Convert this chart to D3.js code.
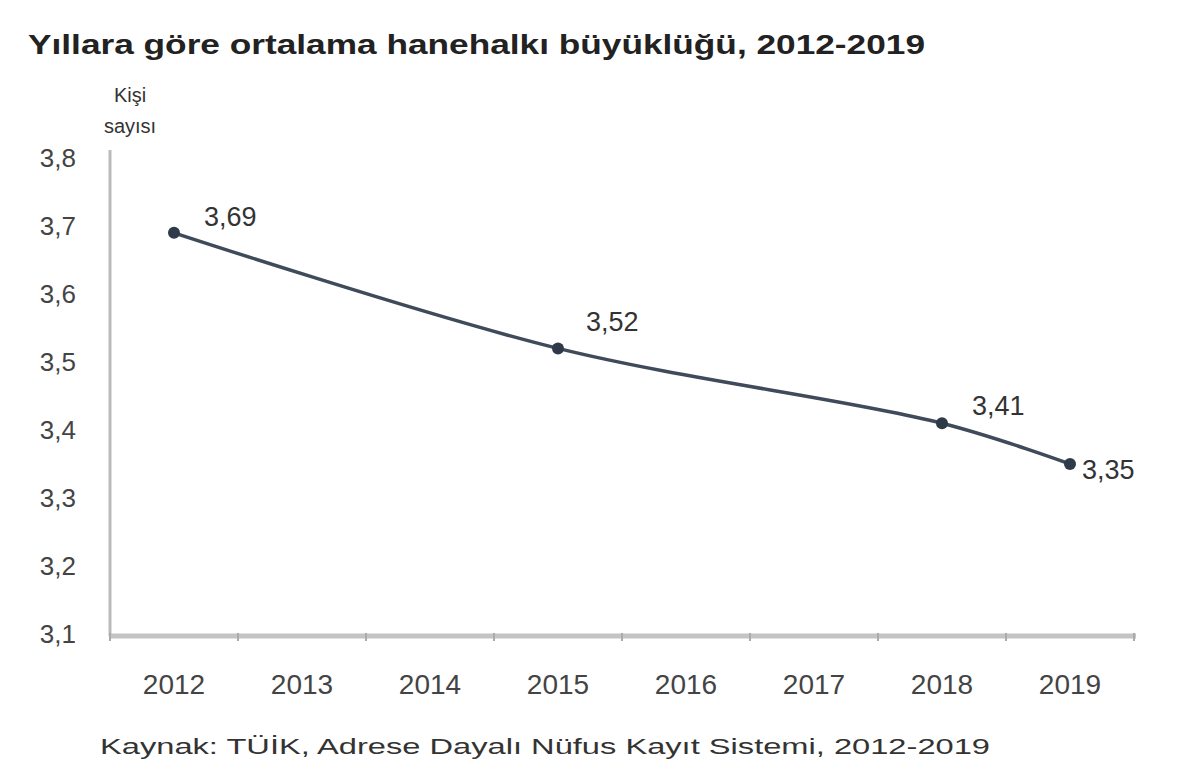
<!DOCTYPE html>
<html>
<head>
<meta charset="utf-8">
<script src="https://cdn.jsdelivr.net/npm/d3@7"></script>
<style>
  body { margin: 0; background: #fff; }
  text { font-family: "Liberation Sans", Arial, sans-serif; fill: #333; }
</style>
</head>
<body>
<svg id="chart" width="1200" height="783"></svg>
<script>
const years = ["2012", "2013", "2014", "2015", "2016", "2017", "2018", "2019"];
const pointYears = ["2012", "2015", "2018", "2019"];
const pointValues = [3.69, 3.52, 3.41, 3.35];
const yTicks = [3.1, 3.2, 3.3, 3.4, 3.5, 3.6, 3.7, 3.8];

const title = "Yıllara göre ortalama hanehalkı büyüklüğü, 2012-2019";
const source = "Kaynak: TÜİK, Adrese Dayalı Nüfus Kayıt Sistemi, 2012-2019";

const svg = d3.select("#chart");
const data = pointYears.map((y, i) => ({ year: y, value: pointValues[i] }));

const x = d3.scaleBand().domain(years).range([110, 1134]);
const y = d3.scaleLinear().domain([3.1, 3.8]).range([634, 158]);
const fmt = (v, n) => d3.format("." + n + "f")(v).replace(".", ",");

// title
svg.append("text")
  .attr("x", 28).attr("y", 54)
  .attr("font-size", 27).attr("font-weight", "bold")
  .attr("textLength", 897).attr("lengthAdjust", "spacingAndGlyphs")
  .style("fill", "#222")
  .text(title);

// y axis label
const yl = svg.append("text").attr("text-anchor", "middle").attr("font-size", 20);
yl.append("tspan").attr("x", 130).attr("y", 102).text("Kişi");
yl.append("tspan").attr("x", 130).attr("y", 133).text("sayısı");

// y axis
const yAxis = svg.append("g")
  .attr("transform", "translate(110,0)")
  .call(d3.axisLeft(y).tickValues(yTicks).tickSize(0).tickPadding(34).tickFormat(d => fmt(d, 1)));
yAxis.select(".domain").attr("stroke", "#bbb").attr("stroke-width", 3)
  .attr("d", "M0,150V636");
yAxis.selectAll(".tick text").attr("font-size", 26).style("fill", "#444");

// x axis
const xAxis = svg.append("g")
  .attr("transform", "translate(0,636)")
  .call(d3.axisBottom(x).tickSize(0).tickPadding(38));
xAxis.select(".domain").attr("stroke", "#c4c4c4").attr("stroke-width", 5)
  .attr("d", "M110,0H1136");
xAxis.selectAll(".tick text").attr("font-size", 28).style("fill", "#444");
xAxis.selectAll(".bandtick")
  .data(years.concat(["end"]))
  .enter().append("line")
  .attr("x1", (d, i) => 110 + i * x.bandwidth())
  .attr("x2", (d, i) => 110 + i * x.bandwidth())
  .attr("y1", -3).attr("y2", 5)
  .attr("stroke", "#aaa").attr("stroke-width", 2);

// line
const cx = d => x(d.year) + x.bandwidth() / 2;
svg.append("path")
  .datum(data)
  .attr("fill", "none")
  .attr("stroke", "#3f4a5a")
  .attr("stroke-width", 3.5)
  .attr("d", d3.line().x(cx).y(d => y(d.value)).curve(d3.curveCatmullRom.alpha(0.5)));

svg.selectAll(".pt")
  .data(data)
  .enter().append("circle")
  .attr("cx", cx).attr("cy", d => y(d.value))
  .attr("r", 6)
  .attr("fill", "#2f3a48");

// data labels
const labelDx = [30, 28, 30, 12];
const labelDy = [-7, -17, -8, 15];
svg.selectAll(".lbl")
  .data(data)
  .enter().append("text")
  .attr("x", (d, i) => cx(d) + labelDx[i])
  .attr("y", (d, i) => y(d.value) + labelDy[i])
  .attr("font-size", 27)
  .style("fill", "#333")
  .text(d => fmt(d.value, 2));

// source
svg.append("text")
  .attr("x", 100).attr("y", 754)
  .attr("font-size", 22)
  .attr("textLength", 890).attr("lengthAdjust", "spacingAndGlyphs")
  .style("fill", "#333")
  .text(source);
</script>
</body>
</html>
